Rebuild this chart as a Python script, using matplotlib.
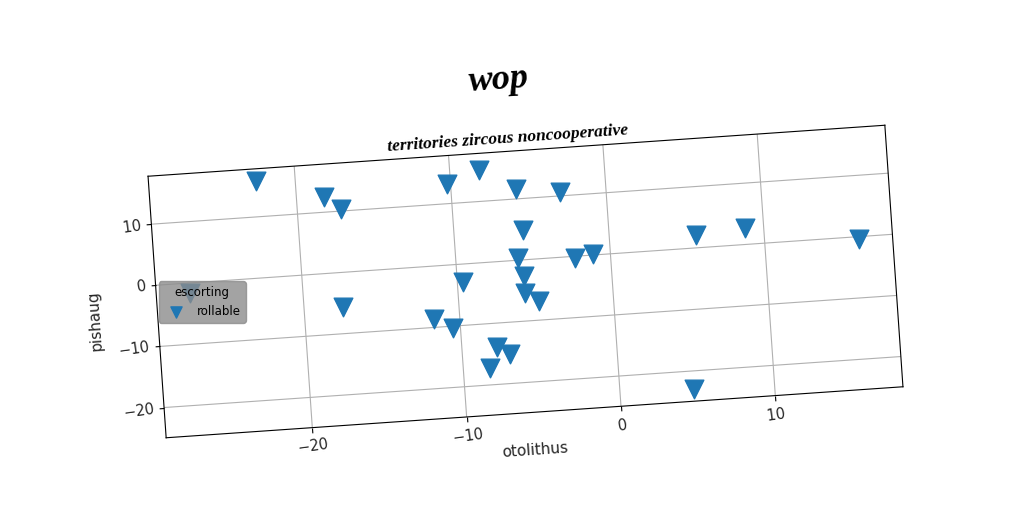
import matplotlib
matplotlib.use('agg')
import matplotlib.pyplot as plt
from matplotlib.transforms import Affine2D
from mpl_toolkits.axisartist import floating_axes
from mpl_toolkits.axisartist import grid_finder

x_vals = [-22.5, -18.2, -17.2, -10.2, -8.1, -5.8, -3.0, -5.5, -6.0, -5.7, -5.7, -4.8, -2.3,
          -1.1, -9.6, -17.5, -11.65, -10.5, -7.7, -6.9, -8.3, 5.6, 8.8, 16.1, 4.8, -27.3]
y_vals = [15.9, 12.4, 10.4, 13.2, 15.2, 11.6, 10.7, 4.9, 0.4, -2.6, -5.4, -6.9, -0.3,
          0.2, -2.9, -5.7, -8.6, -10.3, -13.9, -15.2, -17.3, 2.1, 2.7, -0.4, -23.0, -1.7]
x_ticks = [-20, -10, 0, 10]
y_ticks = [-20, -10, 0, 10]
series_name = 'rollable'
legend_title = 'escorting'

tilt = 3.96
xpad = 0.05 * (max(x_vals) - min(x_vals))
ypad = 0.05 * (max(y_vals) - min(y_vals))
xlo, xhi = min(x_vals) - xpad, max(x_vals) + xpad
ylo, yhi = min(y_vals) - ypad, max(y_vals) + ypad

tr = Affine2D().scale(1, 0.396).rotate_deg(tilt)
grid_helper = floating_axes.GridHelperCurveLinear(
    tr, extremes=(xlo, xhi, ylo, yhi),
    grid_locator1=grid_finder.FixedLocator(x_ticks),
    grid_locator2=grid_finder.FixedLocator(y_ticks))

fig = plt.figure(figsize=(10.24, 5.12), dpi=100)
ax = fig.add_axes([140.5 / 1024, 71 / 512, 770 / 1024, 319 / 512],
                  axes_class=floating_axes.FloatingAxes, grid_helper=grid_helper)
aux = ax.get_aux_axes(tr)

ax.grid(True, color='#b0b0b0', linewidth=0.8)
for side in ['top', 'right']:
    ax.axis[side].toggle(ticks=False, ticklabels=False)
for side in ['bottom', 'left']:
    ax.axis[side].major_ticks.set_tick_out(True)
    ax.axis[side].major_ticklabels.set_fontsize(10.5)
    ax.axis[side].major_ticklabels.set_color('#262626')
ax.axis['bottom'].major_ticklabels.set_rotation(tilt)
ax.axis['left'].major_ticklabels.set_rotation(tilt + 90)

sc = aux.scatter(x_vals, y_vals, marker='v', s=180, color='#1f77b4', zorder=3)

xmid = (xlo + xhi) / 2
ymid = (ylo + yhi) / 2
ax.annotate('territories zircous noncooperative', xy=(xmid, yhi), xycoords=aux.transData,
            xytext=(-6.5, 9), textcoords='offset points', rotation=tilt,
            ha='center', va='center', fontsize=12.5, fontweight='bold', style='italic',
            family='Liberation Serif', rotation_mode='anchor')
ax.annotate('otolithus', xy=(xmid, ylo), xycoords=aux.transData,
            xytext=(0, -27.4), textcoords='offset points', rotation=tilt,
            ha='center', va='center', fontsize=11, color='#262626', rotation_mode='anchor')
ax.annotate('pishaug', xy=(xlo, ymid), xycoords=aux.transData,
            xytext=(-45, -9.4), textcoords='offset points', rotation=90 + tilt,
            ha='center', va='center', fontsize=11, color='#262626', rotation_mode='anchor')

leg = ax.legend([sc], [series_name], title=legend_title, loc='center left',
                bbox_to_anchor=(xlo, ymid + 0.8), bbox_transform=aux.transData,
                borderaxespad=0.2, facecolor='#8c8c8c', framealpha=0.8, edgecolor='#8c8c8c',
                fontsize=8.5, title_fontsize=8.5, markerscale=0.6)
leg.set_zorder(10)

fig.text(499 / 1024, 1 - 80 / 512, 'wop', rotation=tilt, ha='center', va='center',
         fontsize=26, fontweight='bold', style='italic', family='Liberation Serif')

fig.savefig('out.png', dpi=100)
